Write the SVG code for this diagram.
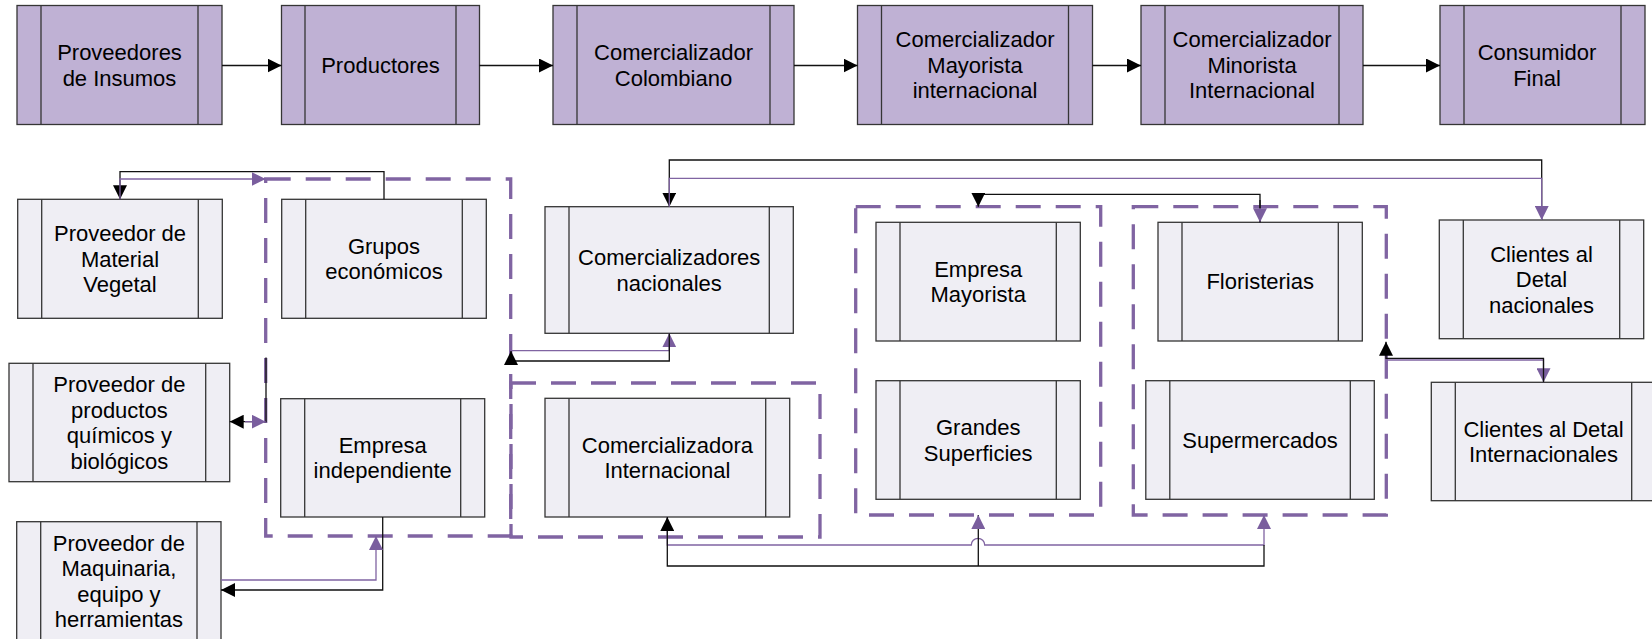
<svg xmlns="http://www.w3.org/2000/svg" width="1652" height="639" viewBox="0 0 1652 639">
  <style>
    .top rect { fill: #BFB1D4; }
    .low rect { fill: #EFEEF4; }
    .top rect, .top path, .low rect, .low path { stroke: #353535; stroke-width: 1.3; }
    .top path, .low path { fill: none; }
    text { font-family: "Liberation Sans", Arial, sans-serif; font-size: 22px; text-anchor: middle; fill: #000; }
    .grp { fill: none; stroke: #8064A2; stroke-width: 3.3; stroke-dasharray: 25 15; }
    .c { fill: none; stroke: #111; stroke-width: 1.3; }
    .p { fill: none; stroke: #8064A2; stroke-width: 1.3; }
    .ab { marker-end: url(#arrowBlack); }
    .ap { marker-end: url(#arrowPurple); }
  </style>
  <defs>
    <marker id="arrowBlack" viewBox="0 0 14 14" refX="14" refY="7" markerWidth="14" markerHeight="14" markerUnits="userSpaceOnUse" orient="auto">
      <path d="M0,0 L14,7 L0,14 z" fill="#000"/>
    </marker>
    <marker id="arrowPurple" viewBox="0 0 14 14" refX="14" refY="7" markerWidth="14" markerHeight="14" markerUnits="userSpaceOnUse" orient="auto">
      <path d="M0,0 L14,7 L0,14 z" fill="#7A5E9E"/>
    </marker>
  </defs>
  <rect width="1652" height="639" fill="#fff"/>

  <!-- dashed containers -->
  <g id="groups">
    <rect class="grp" x="265.7" y="179" width="245" height="357"/>
    <rect class="grp" x="511" y="383" width="309" height="154"/>
    <rect class="grp" x="855.7" y="206.7" width="245" height="308.3"/>
    <rect class="grp" x="1133.3" y="206.7" width="253" height="308.3"/>
  </g>

  <!-- main chain -->
  <g id="n-proveedores-insumos" class="top">
    <rect x="17" y="5.5" width="205" height="119"/>
    <path d="M41,5.5 V124.5 M198,5.5 V124.5"/>
    <text x="119.5" y="60">Proveedores</text>
    <text x="119.5" y="85.5">de Insumos</text>
  </g>
  <g id="n-productores" class="top">
    <rect x="281.5" y="5.5" width="198" height="119"/>
    <path d="M305,5.5 V124.5 M456,5.5 V124.5"/>
    <text x="380.5" y="72.8">Productores</text>
  </g>
  <g id="n-comercializador-colombiano" class="top">
    <rect x="553" y="5.5" width="241" height="119"/>
    <path d="M577,5.5 V124.5 M770,5.5 V124.5"/>
    <text x="673.5" y="60">Comercializador</text>
    <text x="673.5" y="85.5">Colombiano</text>
  </g>
  <g id="n-mayorista-internacional" class="top">
    <rect x="857.5" y="5.5" width="235" height="119"/>
    <path d="M881.5,5.5 V124.5 M1068.5,5.5 V124.5"/>
    <text x="975" y="47.3">Comercializador</text>
    <text x="975" y="72.8">Mayorista</text>
    <text x="975" y="98.3">internacional</text>
  </g>
  <g id="n-minorista-internacional" class="top">
    <rect x="1141" y="5.5" width="222" height="119"/>
    <path d="M1165,5.5 V124.5 M1339,5.5 V124.5"/>
    <text x="1252" y="47.3">Comercializador</text>
    <text x="1252" y="72.8">Minorista</text>
    <text x="1252" y="98.3">Internacional</text>
  </g>
  <g id="n-consumidor-final" class="top">
    <rect x="1440" y="5.5" width="205" height="119"/>
    <path d="M1464,5.5 V124.5 M1621,5.5 V124.5"/>
    <text x="1537" y="60">Consumidor</text>
    <text x="1537" y="85.5">Final</text>
  </g>

  <!-- suppliers and actors -->
  <g id="n-material-vegetal" class="low">
    <rect x="17.7" y="199.3" width="204.6" height="119"/>
    <path d="M41.7,199.3 V318.3 M198.3,199.3 V318.3"/>
    <text x="120" y="241.1">Proveedor de</text>
    <text x="120" y="266.6">Material</text>
    <text x="120" y="292.1">Vegetal</text>
  </g>
  <g id="n-grupos-economicos" class="low">
    <rect x="281.7" y="199.3" width="204.6" height="119"/>
    <path d="M305.7,199.3 V318.3 M462.3,199.3 V318.3"/>
    <text x="384" y="253.9">Grupos</text>
    <text x="384" y="279.4">económicos</text>
  </g>
  <g id="n-quimicos" class="low">
    <rect x="9" y="363.3" width="220.7" height="118.4"/>
    <path d="M33,363.3 V481.7 M205.7,363.3 V481.7"/>
    <text x="119.4" y="392">Proveedor de</text>
    <text x="119.4" y="417.5">productos</text>
    <text x="119.4" y="443">químicos y</text>
    <text x="119.4" y="468.5">biológicos</text>
  </g>
  <g id="n-empresa-independiente" class="low">
    <rect x="280.7" y="398.7" width="204" height="118.3"/>
    <path d="M304.7,398.7 V517 M460.7,398.7 V517"/>
    <text x="382.7" y="452.9">Empresa</text>
    <text x="382.7" y="478.4">independiente</text>
  </g>
  <g id="n-maquinaria" class="low">
    <rect x="16.7" y="521.7" width="204.3" height="119"/>
    <path d="M40.7,521.7 V640.7 M197,521.7 V640.7"/>
    <text x="118.9" y="550.7">Proveedor de</text>
    <text x="118.9" y="576.2">Maquinaria,</text>
    <text x="118.9" y="601.7">equipo y</text>
    <text x="118.9" y="627.2">herramientas</text>
  </g>
  <g id="n-comercializadores-nacionales" class="low">
    <rect x="545" y="206.7" width="248.3" height="126.6"/>
    <path d="M569,206.7 V333.3 M769.3,206.7 V333.3"/>
    <text x="669.2" y="265">Comercializadores</text>
    <text x="669.2" y="290.5">nacionales</text>
  </g>
  <g id="n-comercializadora-internacional" class="low">
    <rect x="545" y="398.3" width="244.7" height="118.7"/>
    <path d="M569,398.3 V517 M765.7,398.3 V517"/>
    <text x="667.4" y="452.7">Comercializadora</text>
    <text x="667.4" y="478.2">Internacional</text>
  </g>
  <g id="n-empresa-mayorista" class="low">
    <rect x="876" y="222.3" width="204.3" height="118.7"/>
    <path d="M900,222.3 V341 M1056.3,222.3 V341"/>
    <text x="978.2" y="276.7">Empresa</text>
    <text x="978.2" y="302.2">Mayorista</text>
  </g>
  <g id="n-grandes-superficies" class="low">
    <rect x="876" y="380.7" width="204.3" height="118.6"/>
    <path d="M900,380.7 V499.3 M1056.3,380.7 V499.3"/>
    <text x="978.2" y="435">Grandes</text>
    <text x="978.2" y="460.5">Superficies</text>
  </g>
  <g id="n-floristerias" class="low">
    <rect x="1158" y="222.3" width="204.3" height="118.7"/>
    <path d="M1182,222.3 V341 M1338.3,222.3 V341"/>
    <text x="1260.2" y="289.4">Floristerias</text>
  </g>
  <g id="n-supermercados" class="low">
    <rect x="1145.8" y="380.7" width="228.5" height="118.6"/>
    <path d="M1169.8,380.7 V499.3 M1350.3,380.7 V499.3"/>
    <text x="1260" y="447.8">Supermercados</text>
  </g>
  <g id="n-clientes-nacionales" class="low">
    <rect x="1439.3" y="220" width="204.4" height="118.7"/>
    <path d="M1463.3,220 V338.7 M1619.7,220 V338.7"/>
    <text x="1541.5" y="261.6">Clientes al</text>
    <text x="1541.5" y="287.1">Detal</text>
    <text x="1541.5" y="312.6">nacionales</text>
  </g>
  <g id="n-clientes-internacionales" class="low">
    <rect x="1431.3" y="382.3" width="224.4" height="118.4"/>
    <path d="M1455.3,382.3 V500.7 M1631.7,382.3 V500.7"/>
    <text x="1543.5" y="436.5">Clientes al Detal</text>
    <text x="1543.5" y="462">Internacionales</text>
  </g>

  <!-- connectors -->
  <g id="connectors">
    <path class="c ab" d="M222,65.5 H281.5"/>
    <path class="c ab" d="M479.5,65.5 H553"/>
    <path class="c ab" d="M794,65.5 H857.5"/>
    <path class="c ab" d="M1092.5,65.5 H1141"/>
    <path class="c ab" d="M1363,65.5 H1440"/>

    <path class="c ab" d="M384,199.3 V171.7 H120 V199.3"/>
    <path class="p ap" d="M120,199.3 V179 H265.7"/>

    <path class="c ab" d="M266,357.5 V421.7 H229.7"/>
    <path class="p ap" d="M245,421.7 H265.7"/>

    <path class="c ab" d="M382.7,517 V590 H221"/>
    <path class="p ap" d="M221,580 H376 V536"/>

    <path class="p ap" d="M511,350.7 H669.3 V333.3"/>
    <path class="c ab" d="M669.3,333.3 V361 H511 V351"/>

    <path class="c ab" d="M1541.7,220 V160 H669.3 V206.7"/>
    <path class="p ap" d="M669.3,206.7 V178.3 H1541.7 V220"/>

    <path class="c ab" d="M1260,222.3 V194.3 H978.3 V206.7"/>
    <path class="c ap" d="M1260,200 V222.3"/>

    <path class="p ap" d="M1386,360 H1543.5 V382.3"/>
    <path class="c ab" d="M1543.5,382.3 V358.3 H1386 V341.7"/>

    <path class="p ap" d="M667.3,517 V545 H971.3 A6.7,6.7 0 0 1 984.7,545 H1264 V515"/>
    <path class="c ab" d="M1264,545 V566 H667.3 V517"/>
    <path class="c ap" d="M978.3,566 V515"/>
  </g>
</svg>
